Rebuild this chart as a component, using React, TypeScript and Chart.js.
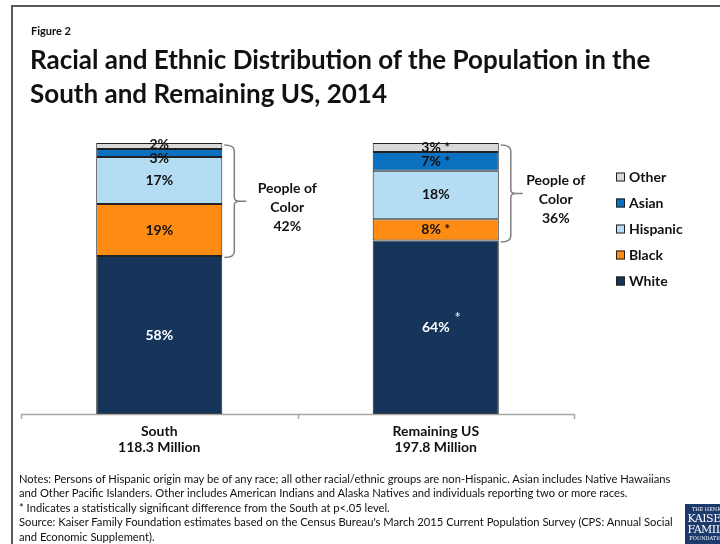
import React, { useEffect, useRef } from "react";
import { Chart, registerables } from "chart.js";

Chart.register(...registerables);

// ---------- data ----------
const categories = ["South", "Remaining US"];
const populations = ["118.3 Million", "197.8 Million"];
const seriesNames = ["White", "Black", "Hispanic", "Asian", "Other"];
const white = [58.3, 64.0];
const black = [19.2, 7.9];
const hispanic = [17.3, 17.9];
const asian = [3.0, 6.9];
const other = [2.2, 3.3];
const whiteLabels = ["58%", "64%"];
const blackLabels = ["19%", "8% *"];
const hispanicLabels = ["17%", "18%"];
const asianLabels = ["3%", "7% *"];
const otherLabels = ["2%", "3% *"];
const whiteSuperscript = ["", "*"];
const peopleOfColor = ["42%", "36%"];
const legendOrder = ["Other", "Asian", "Hispanic", "Black", "White"];

const noteLines = [
  "Notes: Persons of Hispanic origin may be of any race; all other racial/ethnic groups are non-Hispanic. Asian includes  Native Hawaiians",
  "and Other Pacific Islanders. Other includes American Indians and Alaska Natives and individuals reporting two or more races.",
  "* Indicates a statistically significant difference from the South at p<.05 level.",
  "Source: Kaiser Family Foundation estimates based on the Census Bureau's March 2015 Current Population Survey (CPS: Annual Social",
  "and Economic Supplement).",
];

// ---------- styles ----------
const COLORS: Record<string, string> = {
  White: "#15355b",
  Black: "#fd8b14",
  Hispanic: "#b4ddf3",
  Asian: "#0a70c0",
  Other: "#d9d9d9",
};
const FONT = "Lato, 'Open Sans', sans-serif";

const seriesValues: Record<string, number[]> = {
  White: white,
  Black: black,
  Hispanic: hispanic,
  Asian: asian,
  Other: other,
};
const seriesLabels: Record<string, string[]> = {
  White: whiteLabels,
  Black: blackLabels,
  Hispanic: hispanicLabels,
  Asian: asianLabels,
  Other: otherLabels,
};

const overlayPlugin = {
  id: "overlay",
  afterDatasetsDraw(chart: any) {
    const ctx = chart.ctx as CanvasRenderingContext2D;
    const area = chart.chartArea;
    const xs = chart.scales.x;
    ctx.save();

    // axis line and ticks
    ctx.strokeStyle = "#a6a6a6";
    ctx.lineWidth = 1.5;
    ctx.beginPath();
    ctx.moveTo(area.left, area.bottom + 0.5);
    ctx.lineTo(area.right, area.bottom + 0.5);
    const half = (xs.getPixelForValue(1) - xs.getPixelForValue(0)) / 2;
    for (let i = 0; i <= categories.length; i++) {
      const x = Math.round(xs.getPixelForValue(0) - half + i * half * 2) + 0.5;
      ctx.moveTo(x, area.bottom);
      ctx.lineTo(x, area.bottom + 5);
    }
    ctx.stroke();

    // segment labels
    ctx.textAlign = "center";
    ctx.textBaseline = "middle";
    chart.data.datasets.forEach((ds: any, di: number) => {
      const meta = chart.getDatasetMeta(di);
      const name = ds.label as string;
      meta.data.forEach((bar: any, i: number) => {
        const txt = seriesLabels[name][i];
        let cy = (bar.y + bar.base) / 2;
        if (name === "Asian" && i === 0) cy += 5;
        if (name === "Other" && i === 0) cy -= 1;
        ctx.font = `bold 14px ${FONT}`;
        ctx.fillStyle = name === "White" ? "#ffffff" : "#111111";
        ctx.fillText(txt, bar.x, cy);
        if (name === "White" && whiteSuperscript[i]) {
          ctx.font = `15px ${FONT}`;
          ctx.fillText(whiteSuperscript[i], bar.x + 22, cy - 9);
        }
      });
    });

    // brackets and People of Color text
    const whiteMeta = chart.getDatasetMeta(0);
    const topMeta = chart.getDatasetMeta(chart.data.datasets.length - 1);
    const textOffsets = [41, 33];
    categories.forEach((_, i) => {
      const wb = whiteMeta.data[i] as any;
      const tb = topMeta.data[i] as any;
      const right = wb.x + wb.width / 2;
      const top = tb.y + 2;
      const bottom = wb.y + 1.5;
      const mid = (top + bottom) / 2;
      const x0 = right + 2;
      const xv = x0 + 10;
      const tip = xv + 12;
      ctx.strokeStyle = "#7f7f7f";
      ctx.lineWidth = 1.5;
      ctx.beginPath();
      ctx.moveTo(x0, top);
      ctx.quadraticCurveTo(xv, top, xv, top + 6);
      ctx.lineTo(xv, mid - 4);
      ctx.quadraticCurveTo(xv, mid, xv + 5, mid);
      ctx.lineTo(tip, mid);
      ctx.moveTo(xv + 5, mid);
      ctx.quadraticCurveTo(xv, mid, xv, mid + 4);
      ctx.lineTo(xv, bottom - 6);
      ctx.quadraticCurveTo(xv, bottom, x0, bottom);
      ctx.stroke();

      const cx = tip + textOffsets[i];
      ctx.fillStyle = "#111111";
      ctx.font = `bold 14px ${FONT}`;
      ctx.textAlign = "center";
      const lines = ["People of", "Color", peopleOfColor[i]];
      lines.forEach((l, k) => ctx.fillText(l, cx, mid - 13 + k * 19));
    });

    // category labels
    ctx.fillStyle = "#111111";
    ctx.font = `bold 14px ${FONT}`;
    categories.forEach((c, i) => {
      const x = xs.getPixelForValue(i);
      ctx.fillText(c, x, area.bottom + 17);
      ctx.fillText(populations[i], x, area.bottom + 33);
    });

    // legend
    const lx = 616;
    ctx.textAlign = "left";
    legendOrder.forEach((name, k) => {
      const y = 177 + k * 26;
      ctx.fillStyle = COLORS[name];
      ctx.fillRect(lx, y - 4.5, 9, 9);
      ctx.strokeStyle = "#222222";
      ctx.lineWidth = 1;
      ctx.strokeRect(lx + 0.5, y - 4, 8, 8);
      ctx.fillStyle = "#111111";
      ctx.font = `bold 14px ${FONT}`;
      ctx.fillText(name, lx + 13, y);
    });

    ctx.restore();
  },
};

export default function App() {
  const canvasRef = useRef<HTMLCanvasElement | null>(null);

  useEffect(() => {
    if (!canvasRef.current) return;
    const chart = new Chart(canvasRef.current, {
      type: "bar",
      data: {
        labels: categories,
        datasets: seriesNames.map((name) => ({
          label: name,
          data: seriesValues[name],
          backgroundColor: COLORS[name],
          borderColor: "#222222",
          borderWidth: 1,
          borderSkipped: false,
          categoryPercentage: 1,
          barPercentage: 0.456,
        })),
      },
      options: {
        responsive: false,
        animation: false,
        devicePixelRatio: 1,
        layout: { padding: { left: 21, right: 146, top: 143, bottom: 130 } },
        scales: {
          x: { stacked: true, display: false },
          y: { stacked: true, display: false, min: 0, max: 100 },
        },
        plugins: {
          legend: { display: false },
          tooltip: { enabled: false },
          title: { display: false },
        },
      },
      plugins: [overlayPlugin],
    });
    return () => chart.destroy();
  }, []);

  const abs: React.CSSProperties = { position: "absolute" };
  const noLig: React.CSSProperties = { fontVariantLigatures: "none", fontFeatureSettings: '"liga" 0, "clig" 0' };
  return (
    <div style={{ ...abs, ...noLig, left: 0, top: 0, width: 720, height: 544, overflow: "hidden", background: "#fff" }}>
      <canvas ref={canvasRef} width={720} height={544} style={{ ...abs, left: 0, top: 0, width: 720, height: 544 }} />
      <div
        style={{
          ...abs,
          left: 11,
          top: 5,
          width: 720,
          height: 560,
          borderTop: "2px solid #595959",
          borderLeft: "2px solid #595959",
          pointerEvents: "none",
        }}
      />
      <div style={{ ...abs, ...noLig, left: 31, top: 24, font: `bold 11px ${FONT}`, lineHeight: "14px", color: "#111" }}>Figure 2</div>
      <div style={{ ...abs, ...noLig, left: 30, top: 42, font: `bold 26px ${FONT}`, lineHeight: "34px", color: "#111", whiteSpace: "nowrap" }}>
        <div>Racial and Ethnic Distribution of the Population in the</div>
        <div>South and Remaining US, 2014</div>
      </div>
      <div style={{ ...abs, ...noLig, left: 19, top: 472, font: `11.2px ${FONT}`, lineHeight: "14.4px", color: "#111", whiteSpace: "nowrap" }}>
        {noteLines.map((l, i) => (
          <div key={i}>{l}</div>
        ))}
      </div>
      <div
        style={{
          ...abs,
          left: 685,
          top: 504,
          width: 46,
          height: 40,
          background: "#1d3a6c",
          color: "#fff",
          fontFamily: "'DejaVu Serif', 'Liberation Serif', serif",
          overflow: "hidden",
          textAlign: "center",
        }}
      >
        <div style={{ fontSize: 5, lineHeight: "7px", marginTop: 2 }}>THE HENRY</div>
        <div style={{ fontSize: 11, lineHeight: "11px", letterSpacing: -0.5 }}>KAISER</div>
        <div style={{ fontSize: 11, lineHeight: "11px", letterSpacing: -0.5 }}>FAMILY</div>
        <div style={{ fontSize: 5, lineHeight: "7px" }}>FOUNDATION</div>
      </div>
    </div>
  );
}
